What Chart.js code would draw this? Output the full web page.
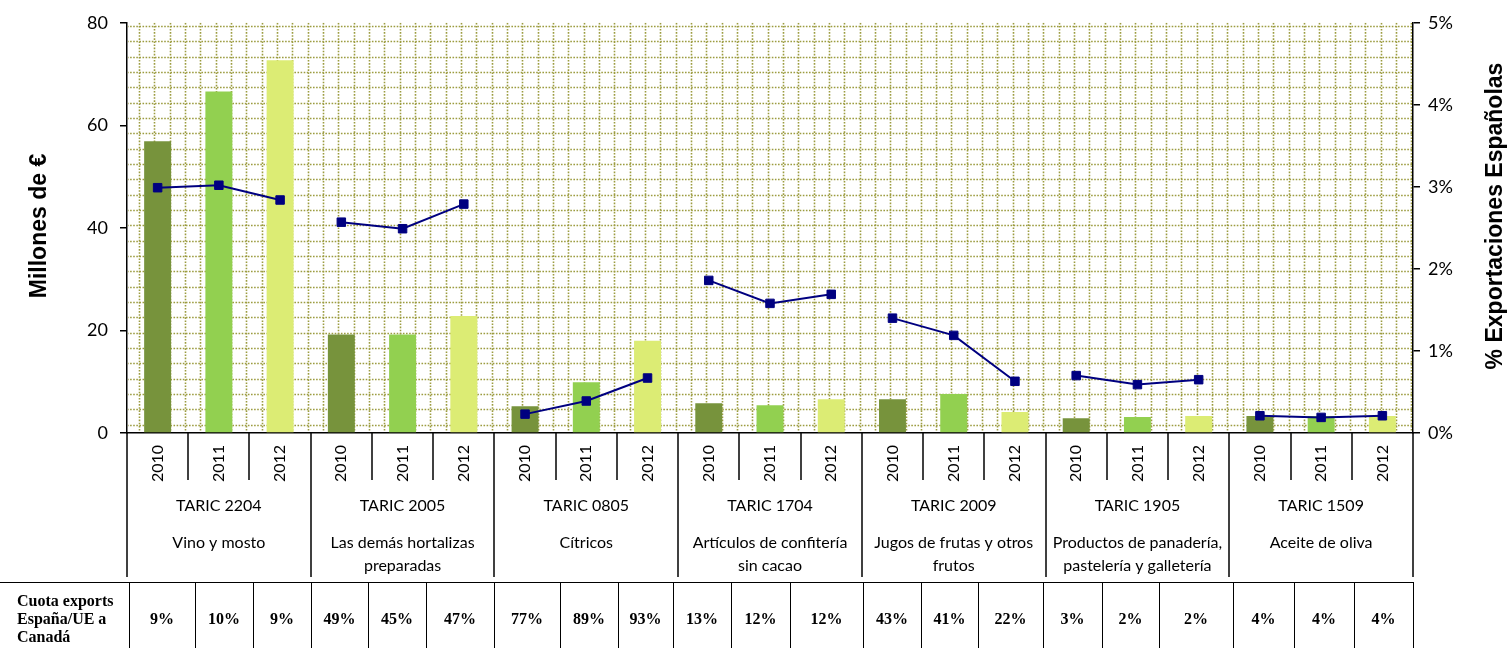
<!DOCTYPE html>
<html>
<head>
<meta charset="utf-8">
<script src="https://cdn.jsdelivr.net/npm/chart.js@4"></script>
<style>
  body { margin: 0; background: #fff; }
  #wrap { position: relative; width: 1508px; height: 648px; overflow: hidden; }
  #cuota { position: absolute; left: 0; top: 582px; border-collapse: collapse; table-layout: fixed; }
  #cuota td { border: 1.5px solid #000; height: 80px; padding: 0; text-align: center; vertical-align: top;
    font: bold 16px "Liberation Serif", "Times New Roman", serif; padding-top: 27px; box-sizing: border-box; }
  #cuota td.cab { border-left: none; text-align: left; padding: 9px 0 0 17px; font-size: 16px; line-height: 18px; }
</style>
</head>
<body>
<div id="wrap">
  <canvas id="exports-chart" width="1508" height="648"></canvas>
  <table id="cuota"><tr id="cuota-row"></tr></table>
</div>
<script>
const chartCanvas = document.getElementById("exports-chart")

// data

const grupos = ["TARIC 2204", "TARIC 2005", "TARIC 0805", "TARIC 1704", "TARIC 2009", "TARIC 1905", "TARIC 1509"]
const descripciones = [
  ["Vino y mosto"],
  ["Las demás hortalizas", "preparadas"],
  ["Cítricos"],
  ["Artículos de confitería", "sin cacao"],
  ["Jugos de frutas y otros", "frutos"],
  ["Productos de panadería,", "pastelería y galletería"],
  ["Aceite de oliva"],
]
const anios = ["2010", "2011", "2012"]

// millones de euros
const valores2010 = [56.9, 19.2, 5.2, 5.8, 6.6, 2.9, 3.3]
const valores2011 = [66.6, 19.2, 9.9, 5.4, 7.6, 3.1, 3.3]
const valores2012 = [72.7, 22.8, 18.0, 6.6, 4.1, 3.3, 3.3]

// % exportaciones españolas
const pct2010 = [2.99, 2.57, 0.23, 1.86, 1.40, 0.70, 0.21]
const pct2011 = [3.02, 2.49, 0.39, 1.58, 1.19, 0.59, 0.19]
const pct2012 = [2.84, 2.79, 0.67, 1.69, 0.63, 0.65, 0.21]

// cuota exports España/UE a Canadá
const cuota2010 = ["9%", "49%", "77%", "13%", "43%", "3%", "4%"]
const cuota2011 = ["10%", "45%", "89%", "12%", "41%", "2%", "4%"]
const cuota2012 = ["9%", "47%", "93%", "12%", "22%", "2%", "4%"]

const ejeIzq = [0, 80, 20]
const ejeDer = [0, 5, 1]

const coloresAnio = ["#77933C", "#92D050", "#DCEC74"]

// flatten groups x years

const etiquetas = []
const valores = []
const porcentajes = []
const colores = []
grupos.forEach((g, i) => {
  const v = [valores2010[i], valores2011[i], valores2012[i]]
  const p = [pct2010[i], pct2011[i], pct2012[i]]
  anios.forEach((a, j) => {
    etiquetas.push(a)
    valores.push(v[j])
    porcentajes.push(p[j])
    colores.push(coloresAnio[j])
  })
})

const tickFont = { family: "Lato, 'Noto Sans', sans-serif", size: 18 }

// background pattern + separators + titles

const fondo = {
  id: "fondo",
  beforeDatasetsDraw(chart) {
    const { ctx, chartArea: a } = chart
    ctx.save()
    ctx.beginPath()
    ctx.rect(a.left + 1, a.top, a.width - 2, a.height - 1)
    ctx.clip()
    ctx.strokeStyle = "#9c9c40"
    ctx.lineWidth = 1.6
    ctx.setLineDash([1.6, 1.5])
    const paso = 15.33
    for (let x = a.left + 12; x < a.right; x += paso) {
      ctx.beginPath()
      ctx.moveTo(Math.round(x) + 0.5, a.top)
      ctx.lineTo(Math.round(x) + 0.5, a.bottom)
      ctx.stroke()
    }
    for (let y = a.top + 3.3; y < a.bottom; y += paso) {
      ctx.beginPath()
      ctx.moveTo(a.left, Math.round(y) + 0.5)
      ctx.lineTo(a.right, Math.round(y) + 0.5)
      ctx.stroke()
    }
    ctx.restore()
  },
  afterDraw(chart) {
    const { ctx, chartArea: a } = chart
    const xs = chart.scales.x
    const ancho = (a.right - a.left) / etiquetas.length
    ctx.save()
    ctx.strokeStyle = "#000"
    ctx.lineWidth = 1.5
    for (let i = 0; i <= etiquetas.length; i++) {
      const x = Math.round(a.left + i * ancho)
      ctx.beginPath()
      ctx.moveTo(x, a.bottom)
      ctx.lineTo(x, i % 3 === 0 ? 577 : 480)
      ctx.stroke()
    }
    ctx.fillStyle = "#000"
    ctx.textAlign = "center"
    ctx.textBaseline = "middle"
    ctx.font = "16px Lato, 'Noto Sans', sans-serif"
    grupos.forEach((g, i) => {
      const cx = (xs.getPixelForValue(i * 3) + xs.getPixelForValue(i * 3 + 2)) / 2
      ctx.fillText(g, cx, 506)
      descripciones[i].forEach((t, k) => ctx.fillText(t, cx, 543 + k * 23))
    })
    ctx.font = "bold 23px 'Liberation Sans', Arial, sans-serif"
    ctx.translate(40, 226)
    ctx.rotate(-Math.PI / 2)
    ctx.fillText("Millones de €", 0, 0)
    ctx.rotate(Math.PI / 2)
    ctx.translate(1456, -10)
    ctx.rotate(-Math.PI / 2)
    ctx.fillText("% Exportaciones Españolas", 0, 0)
    ctx.restore()
  },
}

// chart

const exportsData = {
  labels: etiquetas,
  datasets: [
    {
      type: "line",
      label: "% Exportaciones Españolas",
      data: porcentajes,
      yAxisID: "y1",
      borderColor: "#000080",
      borderWidth: 2,
      pointStyle: "rect",
      pointRadius: 6,
      pointBackgroundColor: "#000080",
      pointBorderColor: "#000080",
      pointBorderWidth: 1,
      tension: 0,
      order: 0,
      segment: {
        borderColor: (c) => (c.p0DataIndex % 3 === 2 ? "transparent" : "#000080"),
      },
    },
    {
      type: "bar",
      label: "Millones de €",
      data: valores,
      yAxisID: "y",
      backgroundColor: colores,
      borderWidth: 0,
      barPercentage: 0.44,
      categoryPercentage: 1,
      order: 1,
    },
  ],
}

const exportsOptions = {
  responsive: false,
  animation: false,
  layout: { padding: { top: 20, left: 0, right: 0, bottom: 0 } },
  scales: {
    x: {
      grid: { display: false, drawTicks: false },
      border: { color: "#000", width: 1.5 },
      ticks: {
        autoSkip: false,
        minRotation: 90,
        maxRotation: 90,
        padding: 12,
        color: "#000",
        font: { family: "Lato, 'Noto Sans', sans-serif", size: 16 },
      },
      afterFit: (s) => { s.height = 215 },
    },
    y: {
      position: "left",
      min: ejeIzq[0],
      max: ejeIzq[1],
      ticks: { stepSize: ejeIzq[2], color: "#000", font: tickFont, padding: 12 },
      grid: { drawOnChartArea: false, tickLength: 7, color: "#000", lineWidth: 1.5 },
      border: { color: "#000", width: 1.5 },
      afterFit: (s) => { s.width = 127 },
    },
    y1: {
      position: "right",
      min: ejeDer[0],
      max: ejeDer[1],
      ticks: { stepSize: ejeDer[2], color: "#000", font: tickFont, padding: 8, callback: (v) => v + "%" },
      grid: { drawOnChartArea: false, tickLength: 7, color: "#000", lineWidth: 1.5 },
      border: { color: "#000", width: 1.5 },
      afterFit: (s) => { s.width = 95 },
    },
  },
  plugins: {
    legend: { display: false },
    tooltip: { enabled: false },
  },
}

let exportsChart = new Chart(chartCanvas, {
  type: "bar",
  data: exportsData,
  options: exportsOptions,
  plugins: [fondo],
})

// cuota table

const anchos = [129, 66, 58, 58, 57, 58, 68, 66, 58, 55, 58, 59, 73, 58, 57, 65, 59, 57, 74, 61, 60, 59]
const fila = document.getElementById("cuota-row")
const cab = document.createElement("td")
cab.className = "cab"
cab.innerHTML = "Cuota exports<br>España/UE a<br>Canadá"
fila.appendChild(cab)
grupos.forEach((g, i) => {
  ;[cuota2010[i], cuota2011[i], cuota2012[i]].forEach((c) => {
    const td = document.createElement("td")
    td.textContent = c
    fila.appendChild(td)
  })
})
fila.querySelectorAll("td").forEach((td, i) => {
  td.style.width = anchos[i] + "px"
})
document.getElementById("cuota").style.width = anchos.reduce((a, b) => a + b, 0) + "px"
</script>
</body>
</html>
